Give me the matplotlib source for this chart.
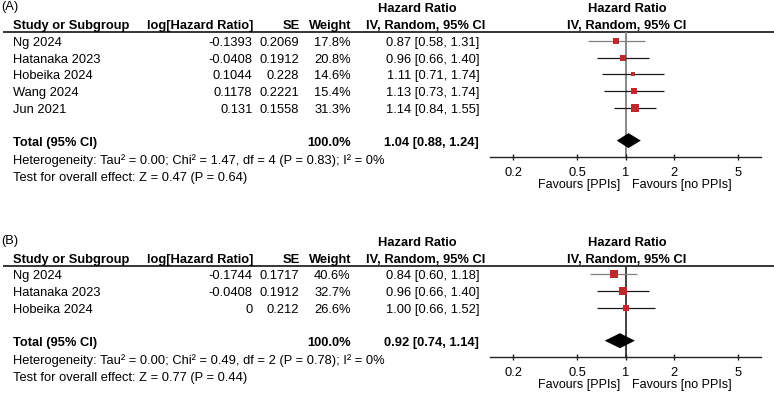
import matplotlib.pyplot as plt

plt.rcParams["font.family"] = ["Liberation Sans", "DejaVu Sans"]
plt.rcParams["font.size"] = 9.3

# ---- panel A ----
STUDIES_A = ["Ng 2024", "Hatanaka 2023", "Hobeika 2024", "Wang 2024", "Jun 2021"]
LOG_HR_A = [-0.1393, -0.0408, 0.1044, 0.1178, 0.131]
SE_A = [0.2069, 0.1912, 0.228, 0.2221, 0.1558]
WEIGHT_A = [17.8, 20.8, 14.6, 15.4, 31.3]
HR_A = [0.87, 0.96, 1.11, 1.13, 1.14]
LO_A = [0.58, 0.66, 0.71, 0.73, 0.84]
HI_A = [1.31, 1.40, 1.74, 1.74, 1.55]
TOTAL_A = [1.04, 0.88, 1.24]
HET_A = "Heterogeneity: Tau² = 0.00; Chi² = 1.47, df = 4 (P = 0.83); I² = 0%"
TEST_A = "Test for overall effect: Z = 0.47 (P = 0.64)"

# ---- panel B ----
STUDIES_B = ["Ng 2024", "Hatanaka 2023", "Hobeika 2024"]
LOG_HR_B = [-0.1744, -0.0408, 0]
SE_B = [0.1717, 0.1912, 0.212]
WEIGHT_B = [40.6, 32.7, 26.6]
HR_B = [0.84, 0.96, 1.00]
LO_B = [0.60, 0.66, 0.66]
HI_B = [1.18, 1.40, 1.52]
TOTAL_B = [0.92, 0.74, 1.14]
HET_B = "Heterogeneity: Tau² = 0.00; Chi² = 0.49, df = 2 (P = 0.78); I² = 0%"
TEST_B = "Test for overall effect: Z = 0.77 (P = 0.44)"

TOTAL_WEIGHT = "100.0%"
TICKS = [0.2, 0.5, 1, 2, 5]
TICK_LABELS = ["0.2", "0.5", "1", "2", "5"]

W, H = 774, 394
RED = "#c1272d"
STEP = 16.8


def ci_text(est, lo, hi):
    return f"{est:.2f} [{lo:.2f}, {hi:.2f}]"


def panel(fig, bg, top, label, studies, log_hr, se, weight, hr, lo, hi,
          total, het, test, vcolor, ng_color):
    line_y = top + 32
    # headers
    bg.text(1, top + 7.3, label, va="center", ha="left")
    bg.text(417.5, top + 9.3, "Hazard Ratio", va="center", ha="center", fontweight="bold")
    bg.text(627, top + 9.3, "Hazard Ratio", va="center", ha="center", fontweight="bold")
    hy = top + 26
    bg.text(13.3, hy, "Study or Subgroup", va="center", ha="left", fontweight="bold")
    bg.text(253.3, hy, "log[Hazard Ratio]", va="center", ha="right", fontweight="bold")
    bg.text(299.5, hy, "SE", va="center", ha="right", fontweight="bold")
    bg.text(351.5, hy, "Weight", va="center", ha="right", fontweight="bold")
    bg.text(425.5, hy, "IV, Random, 95% CI", va="center", ha="center", fontweight="bold")
    bg.text(627, hy, "IV, Random, 95% CI", va="center", ha="center", fontweight="bold")
    bg.hlines(line_y, 3, W, color="black", linewidth=1.1)

    rows = [line_y + 8.7 + i * STEP for i in range(len(studies))]
    tot_y = rows[-1] + 32.7
    axis_y = tot_y + 16.2

    for i, y in enumerate(rows):
        ty = y + 2
        bg.text(13.3, ty, studies[i], va="center", ha="left")
        bg.text(252.5, ty, f"{log_hr[i]:g}", va="center", ha="right")
        bg.text(299.3, ty, f"{se[i]:g}", va="center", ha="right")
        bg.text(350.7, ty, f"{weight[i]:.1f}%", va="center", ha="right")
        bg.text(479.3, ty, ci_text(hr[i], lo[i], hi[i]), va="center", ha="right")

    ty = tot_y + 2
    bg.text(13.3, ty, "Total (95% CI)", va="center", ha="left", fontweight="bold")
    bg.text(350.7, ty, TOTAL_WEIGHT, va="center", ha="right", fontweight="bold")
    bg.text(478.5, ty, ci_text(*total), va="center", ha="right", fontweight="bold")
    bg.text(13.3, tot_y + 20.3, het, va="center", ha="left")
    bg.text(13.3, tot_y + 37.8, test, va="center", ha="left")

    # forest plot
    x0, x1 = 490, 761
    ax = fig.add_axes([x0 / W, 1 - axis_y / H, (x1 - x0) / W, (axis_y - line_y) / H])
    ax.patch.set_alpha(0)
    ax.set_xscale("log")
    ax.set_xlim(0.1435, 6.92)
    ax.set_ylim(axis_y, line_y)
    for s in ["left", "right", "top"]:
        ax.spines[s].set_visible(False)
    ax.spines["bottom"].set_linewidth(1.0)
    ax.spines["bottom"].set_color("#222222")
    ax.set_yticks([])
    ax.set_xticks(TICKS)
    ax.set_xticklabels(TICK_LABELS)
    ax.minorticks_off()
    ax.tick_params(axis="x", direction="inout", length=5, width=1.0,
                   color="#222222", pad=4.5, labelsize=9.3)
    ax.axvline(1, color=vcolor, linewidth=1.3, zorder=1)

    for i, y in enumerate(rows):
        c = ng_color if i == 0 else "#1a1a1a"
        ax.hlines(y, lo[i], hi[i], color=c, linewidth=0.9, zorder=2)
        ax.scatter(hr[i], y, marker="s", s=0.88 * weight[i], color=RED,
                   linewidths=0, zorder=3)
    est, tlo, thi = total
    ax.fill([tlo, est, thi, est], [tot_y, tot_y - 7.5, tot_y, tot_y + 7.5],
            color="black", linewidth=0, zorder=4)

    bg.text(620, axis_y + 28.5, "Favours [PPIs]", va="center", ha="right", fontsize=9.0)
    bg.text(632, axis_y + 28.5, "Favours [no PPIs]", va="center", ha="left", fontsize=9.0)


fig = plt.figure(figsize=(W / 100, H / 100), dpi=100)
bg = fig.add_axes([0, 0, 1, 1])
bg.set_xlim(0, W)
bg.set_ylim(H, 0)
bg.axis("off")

panel(fig, bg, 0, "(A)", STUDIES_A, LOG_HR_A, SE_A, WEIGHT_A, HR_A, LO_A, HI_A,
      TOTAL_A, HET_A, TEST_A, "#808080", "#808080")
panel(fig, bg, 233.7, "(B)", STUDIES_B, LOG_HR_B, SE_B, WEIGHT_B, HR_B, LO_B, HI_B,
      TOTAL_B, HET_B, TEST_B, "#333333", "#808080")

fig.savefig("out.png", dpi=100)
